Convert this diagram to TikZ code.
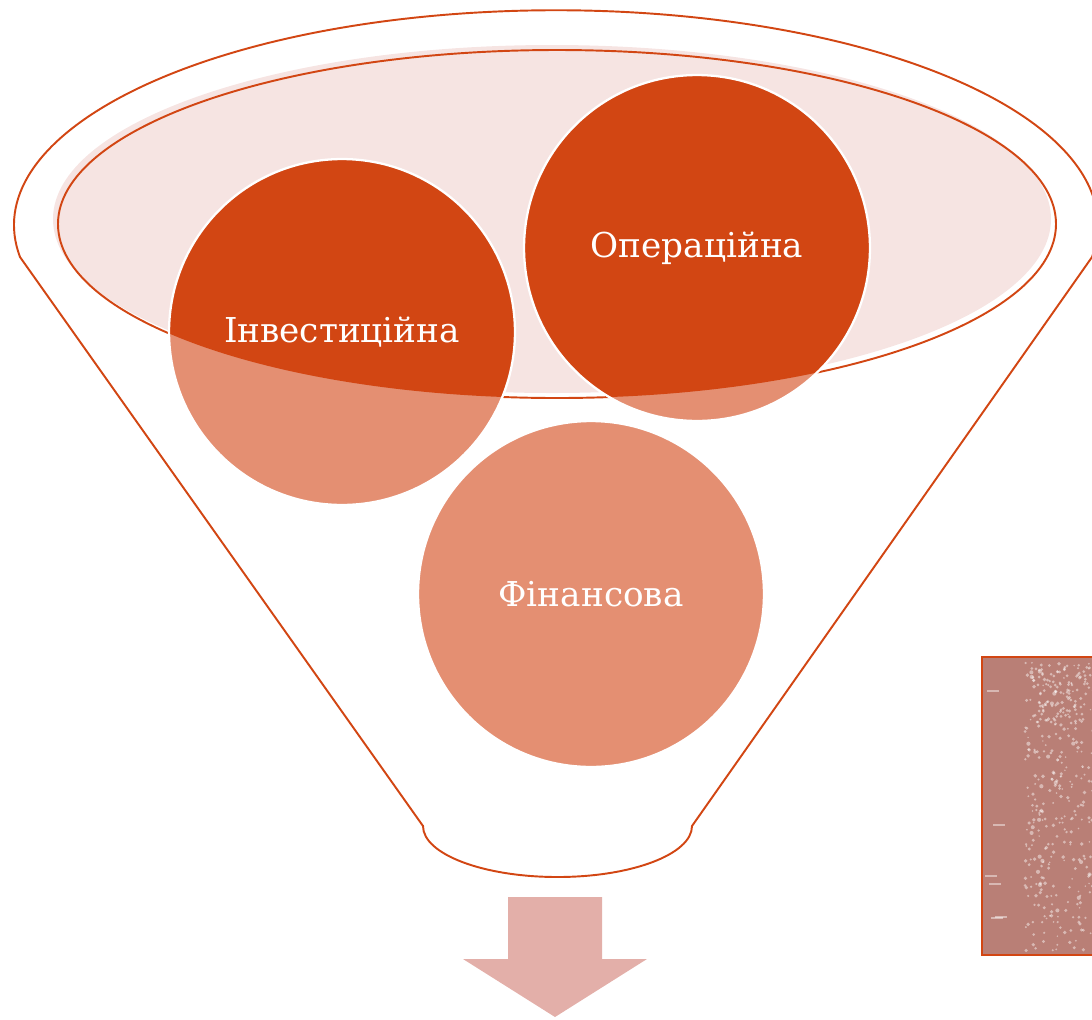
\documentclass[tikz,border=0pt]{standalone}
\usepackage{fontspec}
\setmainfont{DejaVu Serif}
\usetikzlibrary{positioning}
\definecolor{rust}{HTML}{D24613}
\definecolor{salmon}{HTML}{E48F72}
\definecolor{blush}{HTML}{F6E4E2}
\definecolor{rosearrow}{HTML}{E3AFA9}
\definecolor{clay}{HTML}{B97F76}

\begin{document}
\begin{tikzpicture}[x=0.02cm, y=-0.02cm,
    rim/.style={draw=rust, line width=1.1pt},
    stage/.style={circle, minimum size=6.92cm, inner sep=0pt, fill=salmon,
      draw=white, line width=1.3pt, text=white,
      font=\fontsize{19.5}{22}\selectfont,
      path picture={\fill[rust] (lens) ellipse[x radius=499, y radius=174];}},
    speck/.style={fill=white, opacity=0.45}
  ]
  \useasboundingbox (0,0) rectangle (1092,1019);

  % funnel body
  \draw[rim] (423,826) -- (20,257)
    arc[start angle=171.5, end angle=368.5, x radius=542, y radius=215]
    -- (692,826)
    arc[start angle=0, end angle=180, x radius=134.5, y radius=51] -- cycle;

  % inner rim with its soft shadow
  \coordinate (lens) at (557,224);
  \fill[blush] (552,219) ellipse[x radius=499, y radius=174];
  \draw[rim] (lens) ellipse[x radius=499, y radius=174];

  % the three kinds of activity
  \node[stage] (inv) at (342,332) {Інвестиційна};
  \node[stage] (oper) at (697,248) {Операційна};
  \node[stage] (fin) at (591,594) {Фінансова};

  % outflow arrow
  \fill[rosearrow] (508,897) -- (602,897) -- (602,959) -- (647,959)
    -- (555,1017) -- (463,959) -- (508,959) -- cycle;

  % textured panel at the right edge
  \fill[clay] (982,657) rectangle (1100,955);
  \begin{scope}
    \clip (982,657) rectangle (1092,955);
    \pgfmathsetseed{11}
    \foreach \k in {1,...,320}{%
      \fill[speck] ({1025+rnd*70},{662+rnd*290}) circle[radius={0.8+rnd*1.3}];
    }
    \foreach \k in {1,...,90}{%
      \fill[speck] ({1030+rnd*60},{665+rnd*60}) circle[radius=1.5];
    }
    \foreach \k in {1,...,6}{%
      \fill[speck] ({985+rnd*10},{680+rnd*270}) rectangle +(12,2);
    }
  \end{scope}
  \draw[rim] (1100,657) -- (982,657) -- (982,955) -- (1100,955);
\end{tikzpicture}
\end{document}
